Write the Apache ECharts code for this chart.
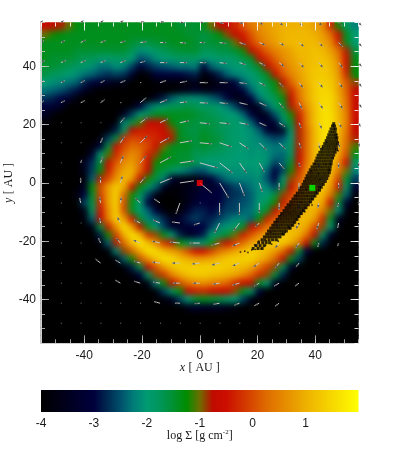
<!DOCTYPE html>
<html><head><meta charset="utf-8">
<style>
html,body{margin:0;padding:0;background:#fff}
#c{width:407px;height:458px}
#c canvas:nth-child(2){filter:blur(3px);clip-path:inset(23px 49px 115px 42px)}
</style>
<script src="https://cdn.jsdelivr.net/npm/echarts@6/dist/echarts.min.js"></script>
</head><body><div id="c"></div>
<script>
// log10 surface density x10, rows top to bottom, columns left to right (40 x 40 cells over +-55 AU)
const densityRows = [
[-7,-7,-8,-10,-13,-14,-14,-14,-14,-14,-14,-14,-14,-14,-14,-14,-14,-15,-15,-15,-14,-10,-7,-6,-3,1,4,6,8,9,10,10,10,10,8,6,-3,-12,-18,-22],
[-10,-12,-13,-14,-14,-14,-14,-14,-14,-14,-14,-14,-14,-14,-14,-14,-14,-14,-15,-15,-16,-15,-13,-9,-6,-4,1,5,7,9,10,11,11,11,10,8,3,-5,-14,-20],
[-14,-14,-14,-14,-14,-14,-14,-14,-14,-14,-14,-15,-16,-16,-15,-15,-14,-14,-14,-15,-16,-15,-15,-15,-10,-6,-1,3,6,8,10,11,11,11,11,9,6,-3,-14,-20],
[-14,-14,-14,-14,-15,-15,-15,-15,-15,-15,-15,-17,-21,-20,-18,-17,-16,-15,-15,-15,-17,-17,-16,-16,-15,-12,-6,-2,2,5,7,9,11,11,12,11,8,3,-8,-16],
[-14,-15,-15,-15,-16,-17,-17,-19,-19,-18,-18,-20,-25,-24,-21,-20,-19,-18,-18,-18,-20,-20,-19,-19,-18,-16,-14,-6,-2,2,6,8,10,11,12,12,10,5,-5,-14],
[-15,-15,-16,-17,-18,-19,-21,-23,-23,-21,-22,-26,-31,-28,-26,-25,-24,-23,-23,-22,-30,-24,-22,-21,-20,-20,-17,-14,-7,-1,3,7,9,11,12,13,11,7,-5,-13],
[-16,-18,-18,-20,-21,-23,-24,-26,-27,-26,-27,-32,-40,-38,-31,-30,-30,-30,-29,-28,-38,-34,-28,-24,-22,-21,-20,-17,-14,-6,1,5,8,11,13,13,12,8,-3,-13],
[-20,-21,-22,-23,-24,-28,-30,-32,-34,-36,-36,-40,-40,-40,-38,-38,-38,-38,-38,-36,-40,-38,-36,-34,-30,-24,-21,-19,-16,-13,-6,2,7,10,13,14,13,9,1,-9],
[-23,-24,-25,-27,-29,-34,-38,-40,-40,-40,-40,-40,-40,-40,-40,-40,-40,-38,-36,-34,-36,-36,-34,-34,-34,-30,-24,-20,-18,-14,-10,-3,4,9,13,15,14,9,2,-7],
[-27,-28,-30,-32,-38,-40,-40,-40,-40,-40,-40,-40,-40,-40,-34,-28,-24,-22,-21,-21,-22,-24,-26,-30,-36,-36,-30,-23,-19,-17,-13,-6,3,9,13,15,15,10,3,-6],
[-30,-32,-34,-40,-40,-40,-40,-40,-40,-40,-40,-38,-30,-24,-21,-19,-17,-17,-16,-17,-18,-18,-20,-22,-26,-32,-36,-34,-24,-19,-15,-8,0,7,12,16,15,10,4,-6],
[-34,-38,-40,-40,-40,-40,-40,-40,-40,-40,-34,-26,-20,-17,-14,-14,-14,-14,-14,-15,-16,-17,-18,-20,-20,-24,-30,-36,-34,-25,-18,-12,-4,5,12,16,16,11,5,-5],
[-39,-40,-40,-40,-40,-40,-40,-40,-40,-38,-22,-16,-11,-7,-7,-8,-13,-15,-15,-16,-16,-16,-17,-18,-19,-20,-24,-30,-34,-32,-22,-15,-6,5,12,16,16,11,5,-6],
[-40,-40,-40,-40,-40,-40,-40,-40,-38,-28,-18,-7,-4,-4,-4,-6,-9,-14,-16,-16,-15,-16,-17,-18,-19,-20,-21,-24,-32,-34,-34,-19,-8,3,11,16,16,11,4,-7],
[-40,-40,-40,-40,-40,-40,-40,-38,-26,-16,-3,0,-1,-2,-3,-5,-8,-14,-15,-16,-14,-15,-16,-18,-19,-20,-21,-22,-24,-26,-25,-20,-8,3,11,16,16,10,3,-8],
[-40,-40,-40,-40,-40,-40,-38,-30,-16,-5,0,3,2,0,-5,-10,-14,-14,-14,-16,-15,-16,-17,-18,-19,-20,-21,-21,-22,-23,-22,-18,-8,3,11,15,15,10,2,-11],
[-40,-40,-40,-40,-40,-40,-32,-20,-11,-3,3,6,4,-4,-9,-13,-14,-15,-15,-17,-17,-18,-18,-19,-20,-20,-21,-20,-21,-23,-24,-18,-7,3,11,15,14,9,0,-14],
[-40,-40,-40,-40,-40,-34,-27,-16,-6,1,6,8,3,-5,-12,-14,-14,-15,-15,-17,-20,-20,-20,-20,-20,-20,-20,-20,-21,-26,-24,-15,-6,4,11,14,13,6,-5,-18],
[-40,-40,-40,-40,-40,-36,-26,-13,-4,4,9,10,2,-7,-14,-16,-18,-21,-23,-25,-25,-22,-21,-21,-21,-21,-21,-20,-24,-30,-26,-12,-3,6,11,14,12,4,-10,-22],
[-40,-40,-40,-40,-40,-38,-24,-8,0,7,11,8,-5,-12,-16,-22,-32,-36,-38,-38,-34,-30,-26,-23,-22,-22,-22,-21,-25,-30,-20,-9,0,7,12,13,10,-1,-15,-26],
[-40,-40,-40,-40,-40,-34,-13,0,8,13,10,-5,-13,-18,-24,-34,-38,-38,-36,-34,-32,-34,-30,-28,-26,-25,-23,-21,-22,-26,-16,-6,2,8,12,13,8,-5,-18,-32],
[-40,-40,-40,-40,-38,-30,-15,-1,8,14,2,-12,-18,-26,-36,-40,-40,-38,-36,-34,-30,-30,-30,-28,-27,-26,-24,-21,-20,-16,-9,-2,5,10,12,11,3,-11,-24,-38],
[-40,-40,-40,-40,-40,-26,-16,-3,8,14,0,-14,-20,-30,-38,-40,-40,-40,-36,-32,-30,-32,-30,-27,-26,-25,-24,-20,-17,-12,-5,2,7,10,12,9,-5,-16,-32,-40],
[-40,-40,-40,-40,-40,-36,-18,-5,6,14,0,-14,-20,-24,-30,-38,-40,-38,-32,-28,-28,-30,-28,-26,-26,-24,-23,-18,-14,-6,1,5,9,11,10,4,-10,-22,-38,-40],
[-40,-40,-40,-40,-40,-38,-24,-7,5,14,8,-5,-15,-22,-24,-28,-36,-32,-28,-26,-28,-28,-26,-24,-22,-22,-24,-13,-4,1,6,9,11,11,8,-3,-15,-34,-40,-40],
[-40,-40,-40,-40,-40,-40,-36,-16,-4,7,16,8,-7,-14,-20,-26,-32,-34,-32,-30,-30,-26,-22,-20,-19,-14,-7,-2,3,7,10,11,11,9,0,-9,-20,-38,-40,-40],
[-40,-40,-40,-40,-40,-40,-40,-28,-12,-1,10,16,11,-2,-9,-14,-20,-28,-34,-32,-28,-20,-17,-15,-10,-4,1,5,9,11,13,12,10,3,-7,-18,-32,-40,-40,-40],
[-40,-40,-40,-40,-40,-40,-40,-38,-24,-8,3,12,17,12,6,-2,-8,-13,-17,-20,-19,-14,-9,-6,-1,3,8,10,13,14,13,10,4,-6,-14,-28,-40,-40,-40,-40],
[-40,-40,-40,-40,-40,-40,-40,-40,-38,-22,-9,2,10,16,15,11,8,5,0,-5,-5,-1,3,6,9,11,14,13,11,8,3,-6,-15,-30,-40,-40,-40,-40,-40,-40],
[-40,-40,-40,-40,-40,-40,-40,-40,-40,-38,-24,-12,0,7,13,16,15,12,10,8,8,9,11,13,14,14,14,11,8,2,-6,-14,-26,-40,-40,-40,-40,-40,-40,-40],
[-40,-40,-40,-40,-40,-40,-40,-40,-40,-40,-38,-28,-16,-7,1,8,12,14,14,14,14,14,14,13,12,11,9,4,-1,-9,-17,-32,-40,-40,-40,-40,-40,-40,-40,-40],
[-40,-40,-40,-40,-40,-40,-40,-40,-40,-40,-40,-38,-30,-18,-9,-2,5,9,12,13,13,12,11,10,9,6,2,-3,-9,-16,-28,-40,-40,-40,-40,-40,-40,-40,-40,-40],
[-40,-40,-40,-40,-40,-40,-40,-40,-40,-40,-40,-40,-40,-36,-22,-12,-6,0,4,6,7,5,4,2,-2,-5,-7,-14,-20,-34,-40,-40,-40,-40,-40,-40,-40,-40,-40,-40],
[-40,-40,-40,-40,-40,-40,-40,-40,-40,-40,-40,-40,-40,-40,-38,-26,-18,-13,-7,-4,-3,-5,-6,-6,-9,-14,-18,-30,-40,-40,-40,-40,-40,-40,-40,-40,-40,-40,-40,-40],
[-40,-40,-40,-40,-40,-40,-40,-40,-40,-40,-40,-40,-40,-40,-40,-38,-34,-26,-20,-15,-14,-15,-16,-18,-20,-26,-36,-40,-40,-40,-40,-40,-40,-40,-40,-40,-40,-40,-40,-40],
[-40,-40,-40,-40,-40,-40,-40,-40,-40,-40,-40,-40,-40,-40,-40,-40,-40,-40,-36,-32,-34,-34,-34,-36,-38,-40,-40,-40,-40,-40,-40,-40,-40,-40,-40,-40,-40,-40,-40,-40],
[-40,-40,-40,-40,-40,-40,-40,-40,-40,-40,-40,-40,-40,-40,-40,-40,-40,-40,-40,-40,-40,-40,-40,-40,-40,-40,-40,-40,-40,-40,-40,-40,-40,-40,-40,-40,-40,-40,-40,-40],
[-40,-40,-40,-40,-40,-40,-40,-40,-40,-40,-40,-40,-40,-40,-40,-40,-40,-40,-40,-40,-40,-40,-40,-40,-40,-40,-40,-40,-40,-40,-40,-40,-40,-40,-40,-40,-40,-40,-40,-40],
[-40,-40,-40,-40,-40,-40,-40,-40,-40,-40,-40,-40,-40,-40,-40,-40,-40,-40,-40,-40,-40,-40,-40,-40,-40,-40,-40,-40,-40,-40,-40,-40,-40,-40,-40,-40,-40,-40,-40,-40],
[-40,-40,-40,-40,-40,-40,-40,-40,-40,-40,-40,-40,-40,-40,-40,-40,-40,-40,-40,-40,-40,-40,-40,-40,-40,-40,-40,-40,-40,-40,-40,-40,-40,-40,-40,-40,-40,-40,-40,-40]
];
// velocity vectors on a 17 x 17 lattice, top row first
const arrowU = [
[2,3,3,3,3,4,4,4,4,4,4,4,4,4,3,3,3],
[3,4,5,5,5,6,6,6,5,6,6,6,5,5,4,4,3],
[4,5,5,5,5,5,7,7,6,7,6,6,5,5,4,4,3],
[3,4,4,4,5,1,6,7,8,8,7,6,4,4,4,4,3],
[3,4,4,4,1,6,7,7,8,8,8,7,4,3,4,4,3],
[1,.5,.5,.5,4,7,8,9,10,10,9,7,6,2,3,3,2],
[0,.3,.3,2,4,7,9,12,12,12,9,7,6,2,1,1,1],
[0,.3,1,2,3,6,11,14,18,13,7,5,5,1,0,0,0],
[0,0,0,0,2,5,12,14,12,9,5,3,0,0,0,0,0],
[0,0,-1,-1,1,-5,-6,-4,0,0,0,0,0,0,-1,-1,0],
[0,0,0,-1,-3,-6,-7,-8,-6,-5,-6,-4,-3,-3,-2,-1,0],
[0,0,0,-2,-4,-7,-8,-10,-10,-8,-7,-5,-4,-3,-1,-1,0],
[0,0,0,-5,-5,-6,-8,-8,-8,-8,-7,-6,-4,-3,-.5,-.3,0],
[0,0,0,0,-5,-6,-7,-7,-7,-7,-7,-5,-5,-4,-.3,-.3,0],
[0,0,0,0,.2,.3,-6,-5,-5,-6,-5,-5,-4,-.3,-.3,0,0],
[0,0,0,0,0,0,0,0,0,0,0,0,0,0,0,0,0],
[0,0,0,0,0,0,0,0,0,0,0,0,0,0,0,0,0]
];
const arrowV = [
[2,2,2,2,2,1,1,0,0,-1,-1,-2,-3,-3,-3,-3,-3],
[2,2,2.5,2,1.5,1,0,-.5,0,-1,-2,-2.5,-3,-4,-4,-4,-4],
[2,2,2,2,2,1.5,0,0,0,-1,-2,-3,-4,-5,-5,-5,-4],
[2,2,2,2,2,0,2,1.5,0,0,-1,-3,-4,-5,-5,-5,-4],
[2,2,2,3,0,5,3,1,-.5,-1,-2,-3,-5,-6,-6,-6,-5],
[1,.3,.3,.3,5,5,4,2,-1,-1,-2,-3,-4,-5,-6,-5,-4],
[.3,.3,.3,5,6,7,5,2,-1,-4,-6,-7,-6,-5,-6,-5,-4],
[0,.3,3,6,7,7,6,2,-5,-10,-10,-9,-6,-4,-5,-5,-4],
[0,0,5,6,7,6,5,2,-10,-15,-13,-9,-7,-7,-6,-5,-2],
[0,0,5,6,6,5,4,-11,0,-12,-12,-10,-7,-6,-5,-4,-2],
[0,0,.3,5,6,3,3,1,-2,-10,-8,-4,-5,-6,-6,-5,-1],
[0,0,.3,5,5,3,2,1,0,-2,-3,-4,-5,-5,-4,-3,-.5],
[0,0,0,4,3,2,1,0,-1,-2,-3,-4,-5,-4,-.3,-.3,0],
[0,0,0,0,3,2,1,0,0,-1,-2,-3,-3,-3,-.3,0,0],
[0,0,0,0,0,0,1.5,0,-.5,-1,-2,-2.5,-3,0,0,0,0],
[0,0,0,0,0,0,0,0,0,0,0,0,0,0,0,0,0],
[0,0,0,0,0,0,0,0,0,0,0,0,0,0,0,0,0]
];
// particle cloud, [y, [x...]] in AU
const particleRows = [
[20.3,[46.4]],[19.5,[46.0,46.7]],[18.5,[45.5,46.4,47.0]],[17.5,[45.1,46.0,46.9]],
[16.5,[44.7,45.6,46.5,47.2]],[15.5,[44.3,45.2,46.1,47.0,47.5]],[14.5,[43.8,44.7,45.6,46.5,47.4]],
[13.5,[43.3,44.2,45.1,46,46.9,47.7]],[12.5,[42.8,43.7,44.6,45.5,46.4,47.3]],
[11.5,[42.2,43.1,44,44.9,45.8,46.7,47.4]],[10.5,[41.6,42.5,43.4,44.3,45.2,46.1,46.9]],
[9.5,[41,41.9,42.8,43.7,44.6,45.5,46.4]],[8.5,[40.6,41.5,42.4,43.3,44.2,45.1,46]],
[7.5,[40.2,41.1,42,42.9,43.8,44.7,45.6]],[6.5,[39.6,40.5,41.4,42.3,43.2,44.1,45,45.5]],
[5.5,[38.9,39.8,40.7,41.6,42.5,43.4,44.3,45.2]],[4.5,[38.3,39.2,40.1,41,41.9,42.8,43.7,44.6,45.1]],
[3.5,[37.8,38.7,39.6,40.5,41.4,42.3,43.2,44.1,44.9]],[2.5,[37.2,38.1,39,39.9,40.8,41.7,42.6,43.5,44.4]],
[1.5,[36.8,37.7,38.6,39.5,40.4,41.3,42.2,43.1,44]],[0.5,[36.3,37.2,38.1,39,39.9,40.8,41.7,42.6,43.5]],
[-0.5,[35.8,36.7,37.6,38.5,39.4,40.3,41.2,42.1,42.8]],[-1.5,[35.2,36.1,37,37.9,38.8,39.7,40.6,41.5,42.1]],
[-2.5,[34.6,35.5,36.4,37.3,38.2,39.1,40,40.9,41.5]],[-3.5,[33.8,34.7,35.6,36.5,37.4,38.3,39.2,40.1,40.7]],
[-4.5,[33,33.9,34.8,35.7,36.6,37.5,38.4,39.3,39.9]],[-5.5,[32.3,33.2,34.1,35,35.9,36.8,37.7,38.6,39.1]],
[-6.5,[31.5,32.4,33.3,34.2,35.1,36,36.9,37.8,38.4]],[-7.5,[30.6,31.5,32.4,33.3,34.2,35.1,36,36.9,37.6]],
[-8.5,[29.9,30.8,31.7,32.6,33.5,34.4,35.3,36.2,36.8]],[-9.5,[29.2,30.1,31,31.9,32.8,33.7,34.6,35.5,36]],
[-10.5,[28.4,29.3,30.2,31.1,32,32.9,33.8,34.7,35.2]],[-11.5,[27.6,28.5,29.4,30.3,31.2,32.1,33,33.9,34.4]],
[-12.5,[26.8,27.7,28.6,29.5,30.4,31.3,32.2,33.1,33.7]],[-13.5,[26,26.9,27.8,28.7,29.6,30.5,31.4,32.3,32.9]],
[-14.5,[25.3,26.2,27.1,28,28.9,29.8,30.7,31.6,32.2]],[-15.5,[24.6,25.5,26.4,27.3,28.2,29.1,30,30.9,31.3]],
[-16.5,[23.8,24.7,25.6,26.5,27.4,28.3,29.2,30]],[-17.5,[23.2,24.1,25,25.9,26.8,27.7,28.6,29]],
[-18.5,[22.4,23.3,24.2,25.1,26,26.9,27.8]],[-19.5,[21.6,22.6,24,25.2,26.4]],
[-20.5,[20.4,21.8,23,24.2]],[-21.5,[19.5,20.9,22.3]],[-22.5,[18.5,20.2,21.6]]
];
const particleStrayX = [14.1,15.6,16.7,18,19.3,21.3,22.8,24.9,19,20.5,23.1,26.9,27.2,29.6,30.7,34.3,36.4,38.9,40.4,41.6,46.2,47.9,48,47.5,44,42.5,39.9,38.6,36.9,33.4,31.2,28.1,26.7,24.6,35.2,37.2,39.2,41.2,43.7];
const particleStrayY = [-23.7,-23.4,-23.9,-23,-22.8,-22.6,-21.4,-21,-21.3,-19.9,-19.9,-19.6,-20,-17,-14.9,-14,-9.9,-7.6,-3,1.2,8.7,11,14,16.6,14,12,6.6,4,-2.2,-4.2,-7.9,-11,-13.2,-16.9,-6.6,-4.5,-1.1,3.2,6.3];
const starPos = [[0,0]];
const planetPos = [[39,-1.7]];
const tickMajor = [-40,-20,0,20,40];
const colorbarTicks = [-4,-3,-2,-1,0,1];
const colorbarRange = [[-4,2]];
// colour table, -4 to 2 in steps of 0.25
const cmap = ['#000000','#00000f','#00001e','#00002e','#00003c','#002850','#00506c','#007d78','#009b72','#00965a','#009030','#008c00','#6e6e00','#c00a00','#cc0e00','#d02c00','#d84a00','#de6a00','#e48200','#e89800','#eeb000','#f2c400','#f6d800','#fbea00','#ffff00'];

const catX = densityRows[0].map((_, i) => String(i));
const catY = densityRows.map((_, j) => String(j));
const heat = [];
densityRows.forEach((row, j) => row.forEach((v, i) => heat.push([i, j, v / 10])));
const arrows = [];
arrowU.forEach((row, j) => row.forEach((u, i) => arrows.push([-55 + i * 110 / 16, 55 - j * 110 / 16, u, arrowV[j][i]])));
const particles = [];
particleRows.forEach(r => r[1].forEach(x => particles.push([x, r[0]])));

const font = 'Liberation Sans', serif = 'Liberation Serif';
function valueAxis(position, fine, labelled, extra) {
  const shown = position === 'bottom' || position === 'left';
  const tickStyle = {color: shown ? 'rgba(205,205,205,0.8)' : 'rgba(255,255,255,0.85)', width: 1};
  return Object.assign({
    type: 'value', gridIndex: 0, position, min: -55, max: 55, interval: 5, zlevel: 2, z: 10,
    axisLine: {show: shown, onZero: false, lineStyle: {color: '#cfcfcf', width: 1}}, splitLine: {show: false},
    axisTick: fine
      ? {show: true, inside: true, length: 4, lineStyle: tickStyle}
      : {show: true, inside: true, length: 8, lineStyle: tickStyle, customValues: tickMajor},
    axisLabel: labelled
      ? {show: true, customValues: tickMajor, fontFamily: font, fontSize: 12, color: '#1a1a1a', margin: position === 'bottom' ? 6 : 5}
      : {show: false}
  }, extra || {});
}
const nameRich = {
  i: {fontFamily: serif, fontStyle: 'italic', fontSize: 12, color: '#1a1a1a'},
  n: {fontFamily: serif, fontSize: 12, color: '#1a1a1a'},
  s: {fontFamily: serif, fontSize: 7, color: '#1a1a1a', verticalAlign: 'top', lineHeight: 14}
};
function renderArrow(params, api) {
  const p = api.coord([api.value(0), api.value(1)]);
  const u = api.value(2), v = api.value(3);
  const len = Math.hypot(u, v);
  const tip = [p[0] + u, p[1] - v];
  const children = [{type: 'line', shape: {x1: p[0], y1: p[1], x2: len < .6 ? p[0] + .8 : tip[0], y2: len < .6 ? p[1] : tip[1]},
    style: {stroke: '#c4c4c4', lineWidth: 1, opacity: len < .6 ? .75 : 1}}];
  if (len >= 2) {
    const ux = u / len, uy = -v / len, h = 3, w = 1.1;
    children.push({type: 'polygon', shape: {points: [tip,
      [tip[0] - ux * h - uy * w, tip[1] - uy * h + ux * w],
      [tip[0] - ux * h + uy * w, tip[1] - uy * h - ux * w]]}, style: {fill: '#555'}});
  }
  return {type: 'group', children};
}
function renderBar(params, api) {
  const a = api.coord([api.value(0), 0]), b = api.coord([api.value(1), 1]);
  return {type: 'rect', shape: {x: a[0], y: b[1], width: b[0] - a[0], height: a[1] - b[1]},
    style: {fill: new echarts.graphic.LinearGradient(0, 0, 1, 0, cmap.map((c, i) => ({offset: i / (cmap.length - 1), color: c})))}};
}
const heatSeries = z => ({type: 'heatmap', xAxisIndex: 0, yAxisIndex: 0, data: heat, zlevel: z, progressive: 0, animation: false, silent: true, itemStyle: {borderWidth: 0}});
const chart = echarts.init(document.getElementById('c'), null, {renderer: 'canvas', width: 407, height: 458});
chart.setOption({
  animation: false,
  backgroundColor: '#fff',
  grid: [{left: 41, top: 22.5, width: 317.5, height: 320.8, outerBoundsMode: 'none'}, {left: 41, top: 390, width: 317.5, height: 22, outerBoundsMode: 'none'}],
  visualMap: {show: false, seriesIndex: [0, 1], dimension: 2, min: -4, max: 2, inRange: {color: cmap}},
  xAxis: [
    {type: 'category', gridIndex: 0, data: catX, show: false},
    valueAxis('bottom', true, false),
    valueAxis('bottom', false, true, {name: '{i|x} {n|[ AU ]}', nameLocation: 'middle', nameGap: 19, nameMoveOverlap: false, nameTextStyle: {rich: nameRich}}),
    valueAxis('top', true, false),
    valueAxis('top', false, false),
    {type: 'value', gridIndex: 1, min: -4, max: 2, interval: 1, splitLine: {show: false}, zlevel: 2,
      axisLine: {show: false}, axisTick: {show: false},
      axisLabel: {customValues: colorbarTicks, fontFamily: font, fontSize: 12, color: '#1a1a1a', margin: 6},
      name: '{n|log \u03a3 [g cm}{s|-2}{n|]}', nameLocation: 'middle', nameGap: 17, nameMoveOverlap: false, nameTextStyle: {rich: nameRich}}
  ],
  yAxis: [
    {type: 'category', gridIndex: 0, data: catY, inverse: true, show: false},
    valueAxis('left', true, false),
    valueAxis('left', false, true, {name: '{i|y} {n|[ AU ]}', nameLocation: 'middle', nameGap: 26, nameRotate: 90, nameMoveOverlap: false, nameTextStyle: {rich: nameRich}}),
    valueAxis('right', true, false),
    valueAxis('right', false, false),
    {type: 'value', gridIndex: 1, min: 0, max: 1, show: false}
  ],
  series: [
    heatSeries(0),
    heatSeries(1),
    {type: 'scatter', xAxisIndex: 1, yAxisIndex: 1, data: particles, symbol: 'rect', symbolSize: 3, itemStyle: {color: '#000'}, zlevel: 2, silent: true},
    {type: 'scatter', xAxisIndex: 1, yAxisIndex: 1, data: particleStrayX.map((x, i) => [x, particleStrayY[i]]), symbol: 'rect', symbolSize: 1.5, itemStyle: {color: '#000'}, zlevel: 2, silent: true},
    {type: 'custom', xAxisIndex: 1, yAxisIndex: 1, data: arrows, renderItem: renderArrow, zlevel: 2, silent: true, clip: false},
    {type: 'scatter', xAxisIndex: 1, yAxisIndex: 1, data: starPos, symbol: 'rect', symbolSize: 6, itemStyle: {color: '#ff0000'}, zlevel: 2, silent: true},
    {type: 'scatter', xAxisIndex: 1, yAxisIndex: 1, data: planetPos, symbol: 'rect', symbolSize: 6, itemStyle: {color: '#00ff00'}, zlevel: 2, silent: true},
    {type: 'custom', xAxisIndex: 5, yAxisIndex: 5, data: colorbarRange, renderItem: renderBar, zlevel: 2, silent: true}
  ]
});
</script></body></html>
